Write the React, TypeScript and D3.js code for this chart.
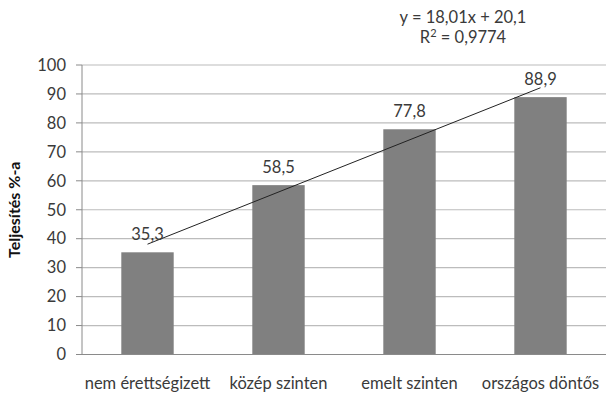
import React from "react";
import * as d3 from "d3";

const categories = ["nem érettségizett", "közép szinten", "emelt szinten", "országos döntős"];
const values = [35.3, 58.5, 77.8, 88.9];
const valueLabels = ["35,3", "58,5", "77,8", "88,9"];
const yTicks = [0, 10, 20, 30, 40, 50, 60, 70, 80, 90, 100];
const trendSlope = 18.01;
const trendIntercept = 20.1;
const trendLabel1 = "y = 18,01x + 20,1";
const trendLabel2 = "0,9774";
const yTitle = "Teljesítés %-a";

const W = 607;
const H = 406;
const FONT = "Lato, 'Noto Sans', sans-serif";
const TEXT = "#3a3a3a";

export default function App() {
  const left = 82;
  const right = 606;
  const top = 65;
  const bottom = 354.5;

  const x = d3.scaleBand<string>().domain(categories).range([left, right]).paddingInner(0.6).paddingOuter(0.3);
  const y = d3.scaleLinear().domain([0, 100]).range([bottom, top]);
  const xIdx = d3
    .scaleLinear()
    .domain([1, categories.length])
    .range([x(categories[0])! + x.bandwidth() / 2, x(categories[categories.length - 1])! + x.bandwidth() / 2]);

  const trendPts: [number, number][] = [1, categories.length].map((i) => [xIdx(i), y(trendSlope * i + trendIntercept)]);
  const line = d3.line<[number, number]>();

  return (
    <svg width={W} height={H} style={{ position: "absolute", left: 0, top: 0, background: "#fff" }}>
      <rect x={0} y={0} width={W} height={H} fill="#fff" />
      {yTicks.map((t) => (
        <g key={t}>
          {t > 0 && <line x1={left} x2={right} y1={y(t)} y2={y(t)} stroke="#bcbcbc" strokeWidth={1.2} />}
          <line x1={left - 6} x2={left} y1={y(t)} y2={y(t)} stroke="#8a8a8a" strokeWidth={1} />
          <text x={left - 16} y={y(t)} dy="0.35em" textAnchor="end" fontFamily={FONT} fontSize={16.5} fill={TEXT}>
            {t}
          </text>
        </g>
      ))}
      {categories.map((c, i) => (
        <rect key={c} x={x(c)} y={y(values[i])} width={x.bandwidth()} height={y(0) - y(values[i])} fill="#808080" />
      ))}
      <line x1={left} x2={left} y1={top} y2={bottom} stroke="#8a8a8a" strokeWidth={1} />
      <line x1={left - 6} x2={right} y1={bottom} y2={bottom} stroke="#8a8a8a" strokeWidth={1} />
      <path d={line(trendPts)!} stroke="#222" strokeWidth={1} fill="none" />
      {categories.map((c, i) => (
        <text
          key={c + "v"}
          x={x(c)! + x.bandwidth() / 2}
          y={y(values[i]) - 12}
          textAnchor="middle"
          fontFamily={FONT}
          fontSize={16.5}
          fill={TEXT}
        >
          {valueLabels[i]}
        </text>
      ))}
      {categories.map((c) => (
        <text key={c + "c"} x={x(c)! + x.bandwidth() / 2} y={389} textAnchor="middle" fontFamily={FONT} fontSize={16.5} fill={TEXT}>
          {c}
        </text>
      ))}
      <text
        transform={`translate(20, ${(top + bottom) / 2}) rotate(-90)`}
        textAnchor="middle"
        fontFamily={FONT}
        fontWeight="bold"
        fontSize={16}
        fill="#111"
      >
        {yTitle}
      </text>
      <text x={463} y={23} textAnchor="middle" fontFamily={FONT} fontSize={16.5} fill={TEXT}>
        {trendLabel1}
      </text>
      <text x={463} y={43} textAnchor="middle" fontFamily={FONT} fontSize={16.5} fill={TEXT}>
        R<tspan dy="-6" fontSize={11}>2</tspan>
        <tspan dy="6">{" = " + trendLabel2}</tspan>
      </text>
    </svg>
  );
}
